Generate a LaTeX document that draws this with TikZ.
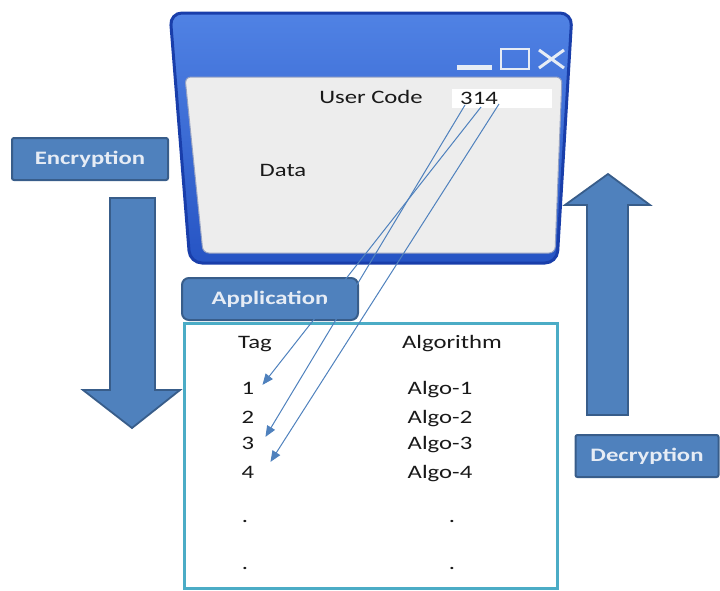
\documentclass[tikz,border=0pt]{standalone}
\usepackage{fontspec}
\setmainfont{Carlito}[FakeStretch=1.3]
\usetikzlibrary{arrows.meta}
\definecolor{winblue}{RGB}{38,84,196}
\definecolor{winlight}{RGB}{80,130,228}
\definecolor{winedge}{RGB}{25,62,170}
\definecolor{panelfill}{RGB}{237,237,237}
\definecolor{paneledge}{RGB}{150,162,195}
\definecolor{boxblue}{RGB}{79,129,189}
\definecolor{boxedge}{RGB}{56,93,138}
\definecolor{boxtext}{RGB}{230,236,245}
\definecolor{tealedge}{RGB}{75,172,198}
\tikzset{
  txt/.style={font=\fontsize{19}{22}\selectfont, text=black!90, inner sep=0pt},
  labelbox/.style={draw=boxedge, line width=2pt, fill=boxblue, text=boxtext,
    font=\fontsize{19}{22}\selectfont\bfseries, rounded corners=2pt},
  bigarrow/.style={draw=boxedge, line width=1.8pt, fill=boxblue},
  codearrow/.style={draw=boxblue, line width=1pt, -{Triangle[length=11pt,width=9pt]}},
  row/.style={txt, anchor=base}
}

\begin{document}
\begin{tikzpicture}[x=1pt, y=-1pt]
		%%%%% START %%%%%
		\useasboundingbox (0,0) rectangle (720,590);
		
		% window
		\draw[line width=3pt, draw=winedge, top color=winlight, bottom color=winblue, rounded corners=12pt] (170,13) -- (572,13) -- (557,263) -- (190,263) -- cycle;
		\draw[draw=paneledge, line width=1pt, fill=panelfill, rounded corners=6pt] (185,77) -- (562,77) -- (555,253) -- (203,253) -- cycle;
		\fill[boxtext] (457,65) rectangle (492,70);
		\draw[boxtext, line width=2.5pt] (501,49) rectangle (529,69);
		\draw[boxtext, line width=3pt] (539,50) -- (564,68);
		\draw[boxtext, line width=3pt] (539,68) -- (564,50);
		
		\fill[white] (452,89) rectangle (552,108);
		\node[txt] (user) at (371,97) {User Code};
		\node[txt] (code) at (479,98) {314};
		\node[txt] (data) at (283,170) {Data};
		\coordinate (d3) at (465,105);
		\coordinate (d1) at (481,107);
		\coordinate (d4) at (499,104);
		
		% side arrows
		\node[labelbox, minimum width=156pt, minimum height=42pt] (enc) at (90,159) {Encryption};
		\draw[bigarrow] (110,198) -- (155,198) -- (155,390) -- (180,390) -- (132,428) -- (83,390) -- (110,390) -- cycle;
		
		\draw[bigarrow] (587,415) -- (628,415) -- (628,205) -- (650,205) -- (608,174) -- (565,205) -- (587,205) -- cycle;
		\node[labelbox, minimum width=143pt, minimum height=42pt] (dec) at (647,456) {Decryption};
		
		% table
		\draw[tealedge, line width=3pt] (184,323) rectangle (557,588);
		\node[labelbox, rounded corners=7pt, minimum width=176pt, minimum height=42pt] (app) at (270,299) {Application};
		
		\node[row] (tag) at (255,348) {Tag};
		\node[row] (alg) at (452,348) {Algorithm};
		\foreach \n/\y in {1/394, 2/423, 3/449, 4/478}{
			\node[row] (t\n) at (248,\y) {\n};
			\node[row] (a\n) at (440,\y) {Algo-\n};
		}
		\node[row] (dotl1) at (245,522) {.};
		\node[row] (dotr1) at (452,522) {.};
		\node[row] (dotl2) at (245,569) {.};
		\node[row] (dotr2) at (452,569) {.};
		
		\draw[codearrow] (d1) -- ([xshift=8pt,yshift=3pt]t1.east);
		\draw[codearrow] (d3) -- ([xshift=11pt,yshift=6pt]t3.east);
		\draw[codearrow] (d4) -- ([xshift=16pt,yshift=10pt]t4.east);
		
		%%%%% END %%%%%
\end{tikzpicture}
\end{document}
